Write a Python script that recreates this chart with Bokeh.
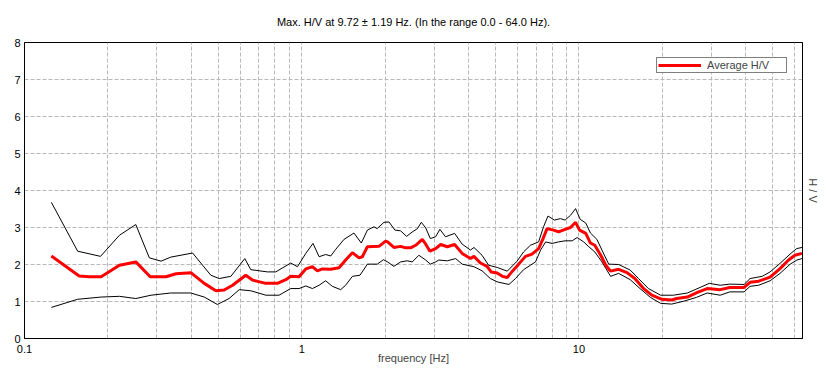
from bokeh.plotting import figure
from bokeh.models import (FixedTicker, LinearAxis, Legend, LegendItem, Range1d)
from bokeh.embed import file_html
from bokeh.resources import INLINE

FONT = "Liberation Sans"

title_text = "Max. H/V at 9.72 \u00b1 1.19 Hz. (In the range 0.0 - 64.0 Hz)."
x_label = "frequency [Hz]"
y_label = "H / V"
legend_label = "Average H/V"

x_major_ticks = [0.1, 1, 10]
x_major_labels = ["0.1", "1", "10"]
x_minor_ticks = [0.2, 0.3, 0.4, 0.5, 0.6, 0.7, 0.8, 0.9,
                 2, 3, 4, 5, 6, 7, 8, 9,
                 20, 30, 40, 50, 60]
y_ticks = [0, 1, 2, 3, 4, 5, 6, 7, 8]

freq_avg = [0.125, 0.1575, 0.171, 0.189, 0.220, 0.252, 0.284, 0.324, 0.352, 0.398,
            0.445, 0.49, 0.525, 0.563, 0.628, 0.664, 0.742, 0.817, 0.876, 0.913,
            0.978, 1.034, 1.093, 1.139, 1.187, 1.272, 1.363, 1.440, 1.523, 1.609,
            1.654, 1.725, 1.899, 2.007, 2.04, 2.149, 2.274, 2.37, 2.469, 2.575,
            2.722, 2.80, 2.90, 3.04, 3.17, 3.35, 3.56, 3.79, 4.06, 4.18,
            4.41, 4.66, 4.82, 5.07, 5.29, 5.51, 5.75, 6.06, 6.41, 6.77,
            7.15, 7.4, 7.67, 8.1, 8.44, 8.91, 9.32, 9.72, 10.05, 10.58,
            11.0, 11.4, 11.98, 12.49, 12.99, 13.9, 14.9, 15.9, 17.1, 18.3,
            19.9, 21.6, 22.5, 24.6, 26.6, 29.0, 32.3, 35.0, 39.4, 41.4,
            44.5, 48.9, 53.1, 57.0, 60.1, 63.7]
hv_avg = [2.23, 1.69, 1.67, 1.67, 1.98, 2.07, 1.67, 1.67, 1.75, 1.78,
          1.49, 1.29, 1.31, 1.44, 1.71, 1.58, 1.49, 1.49, 1.59, 1.68,
          1.67, 1.88, 1.94, 1.83, 1.88, 1.87, 1.91, 2.12, 2.32, 2.18,
          2.21, 2.48, 2.49, 2.63, 2.61, 2.46, 2.49, 2.45, 2.45, 2.52,
          2.68, 2.55, 2.36, 2.43, 2.54, 2.48, 2.54, 2.30, 2.16, 2.22,
          2.04, 1.95, 1.80, 1.77, 1.68, 1.65, 1.82, 2.01, 2.22, 2.28,
          2.43, 2.68, 2.97, 2.93, 2.88, 2.95, 3.00, 3.14, 2.93, 2.84,
          2.58, 2.52, 2.25, 1.98, 1.82, 1.87, 1.78, 1.62, 1.35, 1.17,
          1.06, 1.04, 1.08, 1.12, 1.24, 1.35, 1.32, 1.38, 1.38, 1.52,
          1.55, 1.66, 1.89, 2.12, 2.25, 2.30]

freq_upper = [0.125, 0.1555, 0.188, 0.220, 0.252, 0.282, 0.311, 0.337, 0.404, 0.47,
              0.504, 0.555, 0.623, 0.655, 0.752, 0.806, 0.913, 0.965, 1.034, 1.098,
              1.155, 1.22, 1.272, 1.326, 1.421, 1.543, 1.64, 1.725, 1.822, 1.87,
              1.979, 2.064, 2.168, 2.274, 2.389, 2.504, 2.614, 2.699, 2.80, 2.91,
              3.04, 3.15, 3.30, 3.56, 3.79, 4.06, 4.18, 4.47, 4.72, 5.07,
              5.51, 5.98, 6.31, 6.68, 7.15, 7.45, 7.73, 8.15, 8.57, 8.91,
              9.32, 9.72, 10.1, 10.58, 11.0, 11.6, 12.1, 12.8, 13.9, 15.3,
              16.4, 17.8, 19.7, 21.9, 24.6, 26.4, 29.5, 32.3, 35.0, 39.4,
              41.4, 45.8, 48.9, 53.1, 58.3, 61.0, 63.7]
hv_upper = [3.68, 2.36, 2.22, 2.79, 3.08, 2.18, 2.09, 2.20, 2.31, 1.71,
            1.62, 1.68, 2.16, 1.86, 1.80, 1.80, 2.04, 1.94, 2.30, 2.57,
            2.21, 2.27, 2.23, 2.41, 2.68, 2.85, 2.58, 2.93, 3.02, 2.97,
            3.14, 3.15, 2.93, 2.91, 2.76, 2.88, 2.97, 3.14, 2.99, 2.70,
            2.75, 2.95, 2.75, 2.84, 2.55, 2.39, 2.46, 2.25, 1.98, 1.92,
            1.82, 2.09, 2.34, 2.52, 2.61, 3.02, 3.31, 3.20, 3.24, 3.20,
            3.33, 3.51, 3.22, 3.12, 2.85, 2.68, 2.39, 2.01, 2.00, 1.85,
            1.62, 1.35, 1.17, 1.17, 1.23, 1.33, 1.49, 1.44, 1.47, 1.46,
            1.62, 1.68, 1.80, 2.03, 2.31, 2.43, 2.46]

freq_lower = [0.125, 0.1555, 0.189, 0.220, 0.252, 0.286, 0.337, 0.398, 0.445, 0.496,
              0.547, 0.595, 0.655, 0.742, 0.828, 0.913, 0.978, 1.034, 1.093, 1.155,
              1.22, 1.289, 1.382, 1.44, 1.523, 1.622, 1.725, 1.873, 1.97, 2.04,
              2.149, 2.274, 2.40, 2.504, 2.645, 2.80, 2.91, 3.04, 3.12, 3.35,
              3.59, 3.79, 4.18, 4.47, 4.79, 5.07, 5.59, 5.9, 6.31, 6.68,
              6.97, 7.27, 7.58, 8.0, 8.44, 8.91, 9.45, 9.85, 10.4, 10.85,
              11.4, 12.1, 13.0, 13.9, 15.3, 16.6, 18.1, 19.7, 21.6, 23.9,
              26.5, 29.0, 32.3, 35.0, 39.4, 41.4, 44.5, 48.9, 53.1, 57.8,
              61.1, 63.7]
hv_lower = [0.84, 1.06, 1.12, 1.14, 1.08, 1.17, 1.23, 1.23, 1.12, 0.92,
            1.08, 1.32, 1.29, 1.17, 1.17, 1.35, 1.35, 1.42, 1.35, 1.44,
            1.56, 1.41, 1.32, 1.44, 1.68, 1.71, 2.01, 2.01, 2.13, 2.07,
            1.95, 2.07, 2.10, 2.07, 2.25, 2.12, 2.01, 2.07, 2.12, 2.10,
            2.16, 2.01, 1.94, 1.83, 1.62, 1.53, 1.46, 1.62, 1.86, 1.98,
            2.07, 2.39, 2.61, 2.57, 2.61, 2.64, 2.64, 2.73, 2.61, 2.48,
            2.34, 2.07, 1.68, 1.76, 1.59, 1.35, 1.11, 0.95, 0.93, 1.01,
            1.11, 1.23, 1.17, 1.26, 1.26, 1.41, 1.44, 1.56, 1.76, 2.01,
            2.12, 2.16]

p = figure(width=826, height=381, x_axis_type="log",
           x_range=Range1d(0.1, 64), y_range=Range1d(0, 8),
           output_backend="svg", toolbar_location=None,
           min_border_left=24, min_border_right=24,
           min_border_top=42, min_border_bottom=43,
           background_fill_color="white", border_fill_color="white")

p.title.text = title_text
p.title.align = "center"
p.title.vertical_align = "top"
p.title.text_font = FONT
p.title.text_font_size = "11px"
p.title.text_font_style = "normal"
p.title.text_color = "black"
p.title.standoff = 26

p.outline_line_color = "black"
p.outline_line_width = 1

# x axis
p.xaxis.ticker = FixedTicker(ticks=x_major_ticks, minor_ticks=x_minor_ticks)
p.xaxis.major_label_overrides = {t: l for t, l in zip(x_major_ticks, x_major_labels)}
p.xaxis.axis_label = x_label
p.xaxis.axis_label_text_font = FONT
p.xaxis.axis_label_text_font_size = "11px"
p.xaxis.axis_label_text_font_style = "normal"
p.xaxis.axis_label_standoff = -4
p.xaxis.major_label_standoff = 6

# y axis
p.yaxis.ticker = FixedTicker(ticks=y_ticks)
p.yaxis.major_label_standoff = 4

for ax in (p.xaxis, p.yaxis):
    ax.major_label_text_font = FONT
    ax.major_label_text_font_size = "11px"
    ax.major_label_text_color = "black"
    ax.axis_line_color = "black"
    ax.major_tick_in = 0
    ax.major_tick_out = 0
    ax.minor_tick_in = 0
    ax.minor_tick_out = 0

ra = LinearAxis(ticker=FixedTicker(ticks=[]), axis_label=y_label)
ra.axis_label_text_font = FONT
ra.axis_label_text_font_size = "11px"
ra.axis_label_text_font_style = "normal"
ra.axis_label_standoff = 4
ra.major_label_text_font_size = "0px"
ra.major_tick_line_color = None
ra.minor_tick_line_color = None
ra.axis_line_color = "black"
p.add_layout(ra, "right")

grid_col = "#b8b8b8"
p.xgrid.grid_line_color = grid_col
p.xgrid.grid_line_dash = "4 2"
p.xgrid.minor_grid_line_color = grid_col
p.xgrid.minor_grid_line_dash = "4 2"
p.ygrid.grid_line_color = grid_col
p.ygrid.grid_line_dash = "4 2"

p.line(freq_upper, hv_upper, line_color="black", line_width=1)
p.line(freq_lower, hv_lower, line_color="black", line_width=1)
r_avg = p.line(freq_avg, hv_avg, line_color="#ff0000", line_width=3)

legend = Legend(items=[LegendItem(label=legend_label, renderers=[r_avg])],
                location="top_right", margin=15, padding=1, spacing=0,
                glyph_width=43, glyph_height=8, label_height=8,
                label_standoff=6, label_width=78,
                label_text_font=FONT, label_text_font_size="11px",
                label_text_line_height=1.0,
                border_line_color="black", border_line_width=1,
                background_fill_color="white", background_fill_alpha=1.0)
p.add_layout(legend)

open("out.html", "w").write(file_html(p, INLINE))
